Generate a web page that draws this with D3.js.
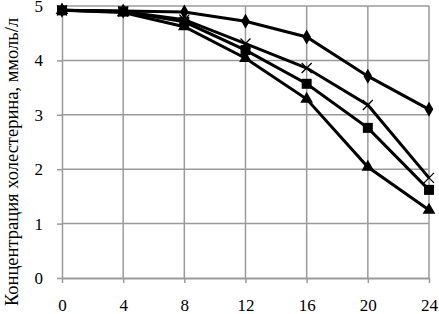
<html>
<head>
<meta charset="utf-8">
<script src="https://d3js.org/d3.v7.min.js"></script>
<style>
body { margin: 0; background: #fff; }
svg { display: block; }
</style>
</head>
<body>
<svg width="439" height="314"></svg>
<script>

// hours
var hours = [0, 4, 8, 12, 16, 20, 24];

// cholesterol concentration, mmol/l
var diamondSeries = [4.92, 4.91, 4.89, 4.72, 4.43, 3.71, 3.10];
var crossSeries   = [4.92, 4.90, 4.75, 4.31, 3.86, 3.18, 1.84];
var squareSeries  = [4.92, 4.90, 4.71, 4.19, 3.57, 2.76, 1.62];
var triangleSeries = [4.92, 4.88, 4.62, 4.04, 3.29, 2.04, 1.25];

var xTicks = [0, 4, 8, 12, 16, 20, 24];
var yTicks = [0, 1, 2, 3, 4, 5];

var yTitle = "Концентрация холестерина, ммоль/л";

var serif = "'Liberation Serif'";

var svg = d3.select("svg"),
    margin = {top: 6, right: 10, bottom: 36, left: 62},
    width = +svg.attr("width"),
    height = +svg.attr("height");

var x = d3.scaleLinear()
    .domain([0, 24])
    .range([margin.left, width - margin.right]);

var y = d3.scaleLinear()
    .domain([0, 5])
    .range([height - margin.bottom, margin.top]);

var grid = "#9a9a9a";

// vertical grid
svg.append("g").selectAll("line")
    .data(xTicks.slice(1))
    .enter().append("line")
    .attr("x1", d => x(d)).attr("x2", d => x(d))
    .attr("y1", y(5)).attr("y2", y(0))
    .attr("stroke", grid).attr("stroke-width", 1.5);

// horizontal grid
svg.append("g").selectAll("line")
    .data(yTicks.slice(1))
    .enter().append("line")
    .attr("x1", x(0)).attr("x2", x(24))
    .attr("y1", d => y(d)).attr("y2", d => y(d))
    .attr("stroke", grid).attr("stroke-width", 1.5);

// x axis
var xAxis = svg.append("g")
    .attr("transform", "translate(0," + y(0) + ")")
    .call(d3.axisBottom(x).tickValues(xTicks).tickFormat(d3.format("d")).tickSize(5).tickSizeOuter(0).tickPadding(16));
xAxis.attr("font-family", null).attr("font-size", null);
xAxis.select(".domain").attr("stroke", grid).attr("stroke-width", 2);
xAxis.selectAll(".tick line").attr("stroke", grid).attr("stroke-width", 1.5);
xAxis.selectAll("text").attr("fill", "#000")
    .style("font-family", serif).style("font-size", "17px");

// y axis
var yAxis = svg.append("g")
    .attr("transform", "translate(" + x(0) + ",0)")
    .call(d3.axisLeft(y).tickValues(yTicks).tickFormat(d3.format("d")).tickSize(5).tickSizeOuter(0).tickPadding(14));
yAxis.attr("font-family", null).attr("font-size", null);
yAxis.select(".domain").attr("stroke", grid).attr("stroke-width", 1.5);
yAxis.selectAll(".tick line").attr("stroke", grid).attr("stroke-width", 1.5);
yAxis.selectAll("text").attr("fill", "#000")
    .style("font-family", serif).style("font-size", "17px");

// y title
svg.append("text")
    .attr("transform", "translate(18,162) rotate(-90)")
    .attr("text-anchor", "middle")
    .style("font-family", serif)
    .style("font-size", "18.5px")
    .text(yTitle);

var line = d3.line()
    .x((d, i) => x(hours[i]))
    .y(d => y(d));

var series = [
    {values: diamondSeries, shape: d3.symbolDiamond, size: 65},
    {values: crossSeries, shape: "cross", size: 0},
    {values: squareSeries, shape: d3.symbolSquare, size: 100},
    {values: triangleSeries, shape: d3.symbolTriangle, size: 70}
];

series.forEach(function(s) {
    svg.append("path")
        .datum(s.values)
        .attr("fill", "none")
        .attr("stroke", "#000")
        .attr("stroke-width", 3)
        .attr("d", line);
});

series.forEach(function(s) {
    var g = svg.append("g");
    if (s.shape === "cross") {
        g.selectAll("path")
            .data(s.values)
            .enter().append("path")
            .attr("transform", (d, i) => "translate(" + x(hours[i]) + "," + y(d) + ")")
            .attr("d", "M-5,-5L5,5M-5,5L5,-5")
            .attr("stroke", "#000")
            .attr("stroke-width", 1.3)
            .attr("fill", "none");
    } else {
        g.selectAll("path")
            .data(s.values)
            .enter().append("path")
            .attr("transform", (d, i) => "translate(" + x(hours[i]) + "," + y(d) + ")")
            .attr("d", d3.symbol().type(s.shape).size(s.size))
            .attr("fill", "#000");
    }
});

</script>
</body>
</html>
